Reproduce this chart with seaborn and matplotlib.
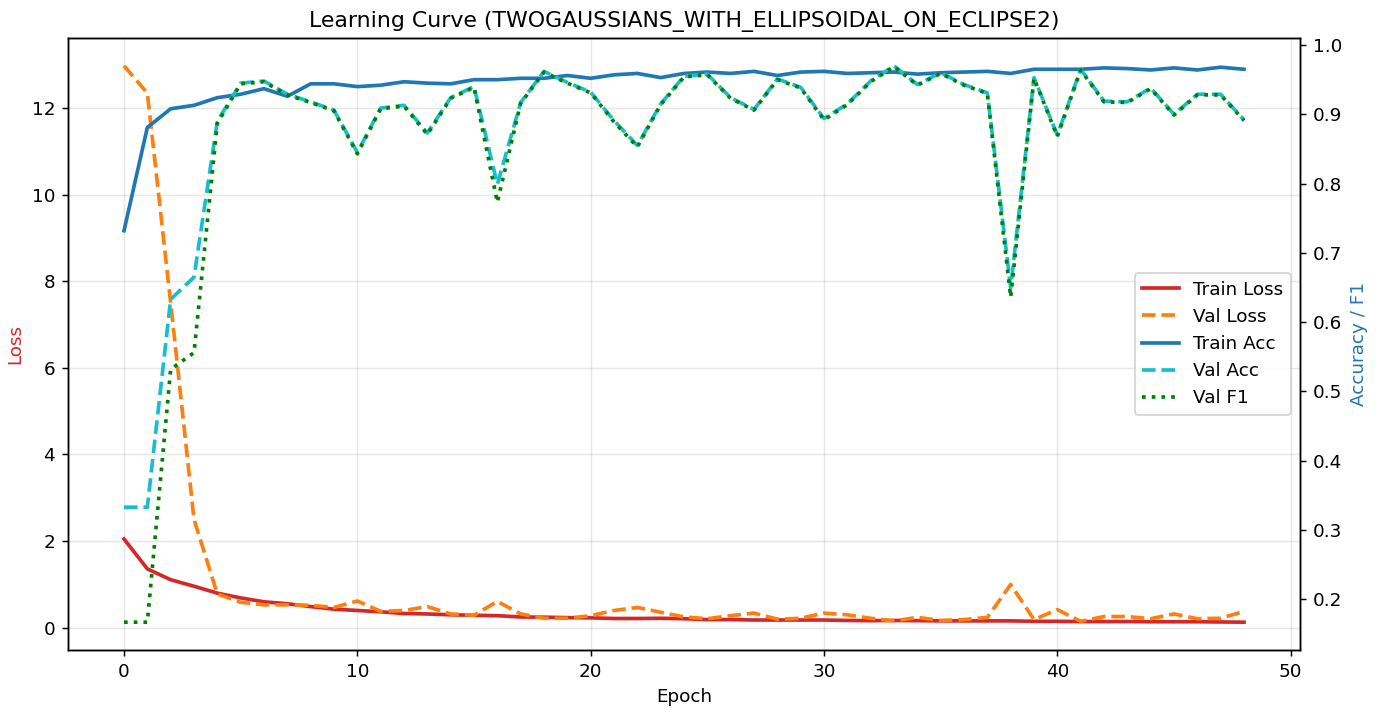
import matplotlib
matplotlib.use("Agg")
import matplotlib.pyplot as plt
import seaborn as sns

# Per-epoch training history
epochs = list(range(49))

train_loss = [2.05, 1.36, 1.11, 0.96, 0.80, 0.69, 0.60, 0.555, 0.49, 0.43,
              0.40, 0.37, 0.33, 0.32, 0.30, 0.29, 0.28, 0.25, 0.245, 0.235,
              0.23, 0.215, 0.215, 0.22, 0.21, 0.19, 0.19, 0.18, 0.18, 0.18,
              0.18, 0.17, 0.165, 0.17, 0.165, 0.16, 0.16, 0.16, 0.16, 0.15,
              0.15, 0.145, 0.145, 0.145, 0.14, 0.14, 0.14, 0.135, 0.13]

val_loss = [12.97, 12.34, 7.5, 2.5, 0.78, 0.59, 0.53, 0.53, 0.52, 0.47,
            0.62, 0.38, 0.40, 0.49, 0.32, 0.29, 0.61, 0.32, 0.22, 0.22,
            0.28, 0.40, 0.47, 0.36, 0.25, 0.21, 0.28, 0.34, 0.20, 0.22,
            0.34, 0.30, 0.22, 0.16, 0.24, 0.17, 0.19, 0.24, 1.00, 0.19,
            0.42, 0.15, 0.26, 0.26, 0.21, 0.32, 0.21, 0.22, 0.38]

train_acc = [0.732, 0.881, 0.908, 0.913, 0.924, 0.929, 0.937, 0.926, 0.944, 0.944,
             0.940, 0.942, 0.947, 0.945, 0.944, 0.950, 0.950, 0.952, 0.952, 0.956,
             0.952, 0.957, 0.959, 0.953, 0.959, 0.961, 0.959, 0.962, 0.956, 0.961,
             0.962, 0.959, 0.960, 0.961, 0.958, 0.960, 0.961, 0.962, 0.959, 0.965,
             0.965, 0.965, 0.967, 0.966, 0.964, 0.967, 0.964, 0.968, 0.965]

val_acc = [0.333, 0.333, 0.633, 0.665, 0.890, 0.945, 0.948, 0.929, 0.918, 0.906,
           0.845, 0.909, 0.913, 0.873, 0.924, 0.940, 0.799, 0.917, 0.962, 0.946,
           0.932, 0.891, 0.855, 0.915, 0.955, 0.958, 0.924, 0.907, 0.951, 0.939,
           0.894, 0.915, 0.948, 0.970, 0.943, 0.960, 0.943, 0.931, 0.650, 0.953,
           0.870, 0.965, 0.919, 0.918, 0.938, 0.900, 0.929, 0.929, 0.892]

val_f1 = [0.167, 0.167, 0.532, 0.556, 0.887, 0.944, 0.947, 0.928, 0.917, 0.905,
          0.843, 0.908, 0.912, 0.871, 0.923, 0.939, 0.773, 0.916, 0.961, 0.945,
          0.931, 0.889, 0.853, 0.914, 0.954, 0.957, 0.923, 0.906, 0.950, 0.938,
          0.892, 0.914, 0.947, 0.969, 0.942, 0.959, 0.942, 0.930, 0.636, 0.952,
          0.868, 0.964, 0.918, 0.917, 0.937, 0.899, 0.928, 0.928, 0.891]

DPI = 132
W, H = 1383, 713
fig = plt.figure(figsize=(W / DPI, H / DPI), dpi=DPI)
ax1 = fig.add_axes([68 / W, 1 - 650 / H, (1300 - 68) / W, (650 - 38) / H])
ax2 = ax1.twinx()

lw = 2
sns.lineplot(x=epochs, y=train_loss, ax=ax1, color="tab:red", linewidth=lw,
             linestyle="-", label="Train Loss", legend=False)
sns.lineplot(x=epochs, y=val_loss, ax=ax1, color="tab:orange", linewidth=lw,
             linestyle="--", label="Val Loss", legend=False)
sns.lineplot(x=epochs, y=train_acc, ax=ax2, color="tab:blue", linewidth=lw,
             linestyle="-", label="Train Acc", legend=False)
sns.lineplot(x=epochs, y=val_acc, ax=ax2, color="tab:cyan", linewidth=lw,
             linestyle="--", label="Val Acc", legend=False)
sns.lineplot(x=epochs, y=val_f1, ax=ax2, color="green", linewidth=lw,
             linestyle=":", label="Val F1", legend=False)

ax1.set_xlabel("Epoch")
ax1.set_ylabel("Loss", color="tab:red")
ax2.set_ylabel("Accuracy / F1", color="tab:blue")
ax1.set_title("Learning Curve (TWOGAUSSIANS_WITH_ELLIPSOIDAL_ON_ECLIPSE2)", fontsize=12)
ax1.grid(True, alpha=0.3)

h1, l1 = ax1.get_legend_handles_labels()
h2, l2 = ax2.get_legend_handles_labels()
ax2.legend(h1 + h2, l1 + l2, loc="center right")

fig.savefig("out.png", dpi=DPI)
